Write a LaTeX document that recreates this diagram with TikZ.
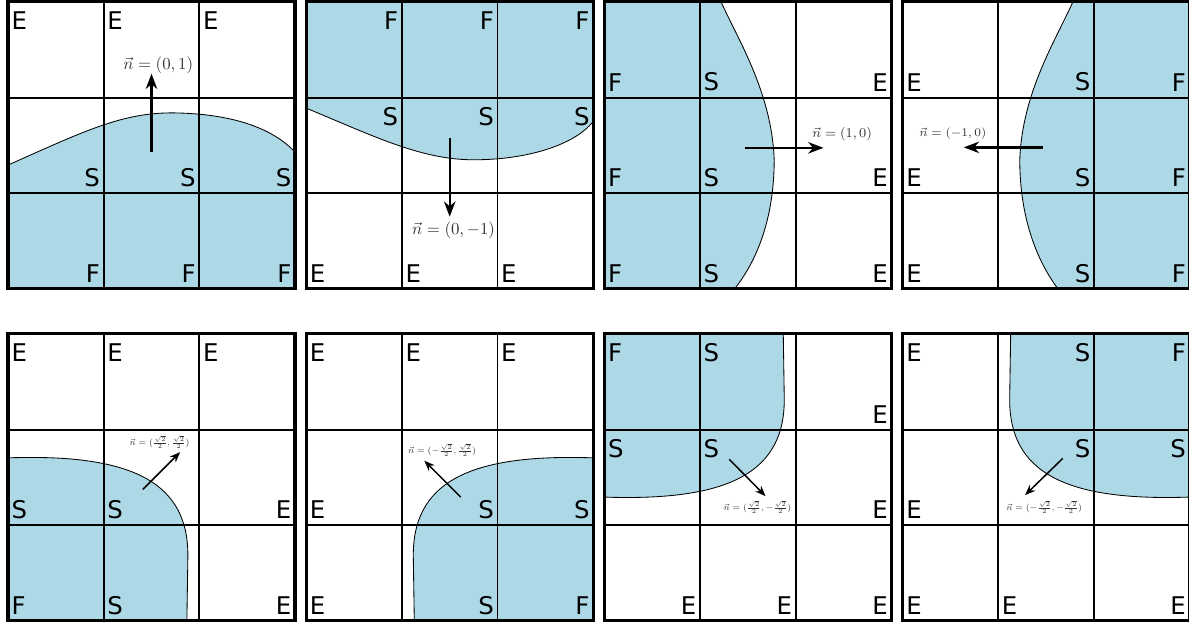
\documentclass[tikz,border=0pt]{standalone}
\usepackage{fontspec}
\usepackage{tikz}
\usetikzlibrary{arrows.meta}
\newfontfamily\tagfont{DejaVu Sans}
\definecolor{fluid}{HTML}{ADD8E6}
\definecolor{vecgrey}{HTML}{333333}
\newcommand{\cellgrid}{%
  \draw[gridline] (2,0) -- (2,6) (4,0) -- (4,6) (0,2) -- (6,2) (0,4) -- (6,4);
  \draw[frameline] (0,0) rectangle (6,6);}

\tikzset{
  gridline/.style={line width=1.1pt},
  frameline/.style={line width=1.8pt},
  surface/.style={fill=fluid, draw=black, line width=0.5pt},
  tagbase/.style={font=\tagfont\fontsize{14.5}{17}\selectfont, inner sep=0pt},
  tagNW/.style={tagbase, anchor=north west, xshift=0.07cm, yshift=-0.2cm},
  tagNE/.style={tagbase, anchor=north east, xshift=-0.07cm, yshift=-0.2cm},
  tagSW/.style={tagbase, anchor=south west, xshift=0.07cm, yshift=0.13cm},
  tagSE/.style={tagbase, anchor=south east, xshift=-0.07cm, yshift=0.13cm},
  nvec/.style={-{Stealth[length=0.32cm,width=0.24cm]}, line width=1.4pt},
  nvecsm/.style={-{Stealth[length=0.22cm,width=0.17cm]}, line width=0.9pt},
  nlbl/.style={text=vecgrey, inner sep=0pt},
  nlblsm/.style={nlbl, font=\fontsize{7.2}{9}\selectfont, scale=0.74, transform shape},
}

\begin{document}
\begin{tikzpicture}
  \useasboundingbox (0,0) rectangle (24.857,13.024);

  % top row: flat interfaces
  \begin{scope}[shift={(0.167,6.983)}]
    \draw[surface] (0,2.59) .. controls (1.6,3.3) and (2.4,3.7) .. (3.5,3.68)
      .. controls (4.6,3.66) and (5.5,3.4) .. (6,2.86) -- (6,0) -- (0,0) -- cycle;
    \cellgrid
    \node[tagNW] (a1) at (0,6) {E};
    \node[tagNW] (a2) at (2,6) {E};
    \node[tagNW] (a3) at (4,6) {E};
    \node[tagSE] (a4) at (2,2) {S};
    \node[tagSE] (a5) at (4,2) {S};
    \node[tagSE] (a6) at (6,2) {S};
    \node[tagSE] (a7) at (2,0) {F};
    \node[tagSE] (a8) at (4,0) {F};
    \node[tagSE] (a9) at (6,0) {F};
    \coordinate (a0) at (3,2.87);
    \coordinate (an) at (3,4.5);
    \draw[nvec] (a0) -- (an);
    \node[nlbl, font=\fontsize{9.8}{11}\selectfont, anchor=south] (alab) at (3.14,4.5)
      {$\vec{n}=(0,1)$};
  \end{scope}

  \begin{scope}[shift={(6.401,6.983)}]
    \draw[surface] (0,3.78) .. controls (1.4,3.2) and (2.4,2.7) .. (3.5,2.70)
      .. controls (4.6,2.70) and (5.6,3.0) .. (6,3.5) -- (6,6) -- (0,6) -- cycle;
    \cellgrid
    \node[tagNE] (b1) at (2,6) {F};
    \node[tagNE] (b2) at (4,6) {F};
    \node[tagNE] (b3) at (6,6) {F};
    \node[tagNE] (b4) at (2,4) {S};
    \node[tagNE] (b5) at (4,4) {S};
    \node[tagNE] (b6) at (6,4) {S};
    \node[tagSW] (b7) at (0,0) {E};
    \node[tagSW] (b8) at (2,0) {E};
    \node[tagSW] (b9) at (4,0) {E};
    \coordinate (b0) at (3,3.15);
    \coordinate (bn) at (3,1.51);
    \draw[nvec] (b0) -- (bn);
    \node[nlbl, font=\fontsize{9.6}{11}\selectfont, anchor=north] (blab) at (3.08,1.40)
      {$\vec{n}=(0,-1)$};
  \end{scope}

  \begin{scope}[shift={(12.635,6.983)}]
    \draw[surface] (0,6) -- (2.44,6) .. controls (2.8,5.2) and (3.5,4.1) .. (3.55,2.7)
      .. controls (3.55,1.5) and (3.2,0.6) .. (2.72,0) -- (0,0) -- cycle;
    \cellgrid
    \node[tagSW] (c1) at (0,4) {F};
    \node[tagSW] (c2) at (0,2) {F};
    \node[tagSW] (c3) at (0,0) {F};
    \node[tagSW] (c4) at (2,4) {S};
    \node[tagSW] (c5) at (2,2) {S};
    \node[tagSW] (c6) at (2,0) {S};
    \node[tagSE] (c7) at (6,4) {E};
    \node[tagSE] (c8) at (6,2) {E};
    \node[tagSE] (c9) at (6,0) {E};
    \coordinate (c0) at (2.93,2.95);
    \coordinate (cn) at (4.58,2.95);
    \draw[nvec] (c0) -- (cn);
    \node[nlbl, font=\fontsize{8.1}{10}\selectfont, anchor=south] (clab) at (4.97,3.08)
      {$\vec{n}=(1,0)$};
  \end{scope}

  \begin{scope}[shift={(18.869,6.983)}]
    \draw[surface] (6,6) -- (3.56,6) .. controls (3.2,5.2) and (2.5,4.1) .. (2.45,2.7)
      .. controls (2.45,1.5) and (2.8,0.6) .. (3.25,0) -- (6,0) -- cycle;
    \cellgrid
    \node[tagSW] (d1) at (0,4) {E};
    \node[tagSW] (d2) at (0,2) {E};
    \node[tagSW] (d3) at (0,0) {E};
    \node[tagSE] (d4) at (4,4) {S};
    \node[tagSE] (d5) at (4,2) {S};
    \node[tagSE] (d6) at (4,0) {S};
    \node[tagSE] (d7) at (6,4) {F};
    \node[tagSE] (d8) at (6,2) {F};
    \node[tagSE] (d9) at (6,0) {F};
    \coordinate (d0) at (2.94,2.96);
    \coordinate (dn) at (1.28,2.96);
    \draw[nvec] (d0) -- (dn);
    \node[nlbl, font=\fontsize{7.2}{9}\selectfont, anchor=south] (dlab) at (1.05,3.12)
      {$\vec{n}=(-1,0)$};
  \end{scope}

  % bottom row: corner interfaces
  \begin{scope}[shift={(0.167,0.042)}]
    \draw[surface] (0,0) -- (0,3.41) .. controls (2.6,3.5) and (3.8,2.9) .. (3.76,1.3)
      -- (3.74,0) -- cycle;
    \cellgrid
    \node[tagNW] (e1) at (0,6) {E};
    \node[tagNW] (e2) at (2,6) {E};
    \node[tagNW] (e3) at (4,6) {E};
    \node[tagSW] (e4) at (0,2) {S};
    \node[tagSW] (e5) at (2,2) {S};
    \node[tagSE] (e6) at (6,2) {E};
    \node[tagSW] (e7) at (0,0) {F};
    \node[tagSW] (e8) at (2,0) {S};
    \node[tagSE] (e9) at (6,0) {E};
    \coordinate (e0) at (2.82,2.75);
    \coordinate (en) at (3.60,3.53);
    \draw[nvecsm] (e0) -- (en);
    \node[nlblsm, anchor=south] (elab) at (3.17,3.6)
      {$\vec{n}=(\frac{\sqrt{2}}{2},\frac{\sqrt{2}}{2})$};
  \end{scope}

  \begin{scope}[shift={(6.401,0.042)}]
    \draw[surface] (6,0) -- (6,3.41) .. controls (3.4,3.5) and (2.2,2.9) .. (2.24,1.3)
      -- (2.26,0) -- cycle;
    \cellgrid
    \node[tagNW] (f1) at (0,6) {E};
    \node[tagNW] (f2) at (2,6) {E};
    \node[tagNW] (f3) at (4,6) {E};
    \node[tagSW] (f4) at (0,2) {E};
    \node[tagSE] (f5) at (4,2) {S};
    \node[tagSE] (f6) at (6,2) {S};
    \node[tagSW] (f7) at (0,0) {E};
    \node[tagSE] (f8) at (4,0) {S};
    \node[tagSE] (f9) at (6,0) {F};
    \coordinate (f0) at (3.23,2.59);
    \coordinate (fn) at (2.47,3.35);
    \draw[nvecsm] (f0) -- (fn);
    \node[nlblsm, anchor=south] (flab) at (2.84,3.44)
      {$\vec{n}=(-\frac{\sqrt{2}}{2},\frac{\sqrt{2}}{2})$};
  \end{scope}

  \begin{scope}[shift={(12.635,0.042)}]
    \draw[surface] (0,6) -- (0,2.59) .. controls (2.6,2.5) and (3.8,3.1) .. (3.76,4.7)
      -- (3.74,6) -- cycle;
    \cellgrid
    \node[tagNW] (g1) at (0,6) {F};
    \node[tagNW] (g2) at (2,6) {S};
    \node[tagSE] (g3) at (6,4) {E};
    \node[tagNW] (g4) at (0,4) {S};
    \node[tagNW] (g5) at (2,4) {S};
    \node[tagSE] (g6) at (6,2) {E};
    \node[tagSE] (g7) at (2,0) {E};
    \node[tagSE] (g8) at (4,0) {E};
    \node[tagSE] (g9) at (6,0) {E};
    \coordinate (g0) at (2.61,3.38);
    \coordinate (gn) at (3.37,2.61);
    \draw[nvecsm] (g0) -- (gn);
    \node[nlblsm, anchor=north] (glab) at (3.20,2.52)
      {$\vec{n}=(\frac{\sqrt{2}}{2},-\frac{\sqrt{2}}{2})$};
  \end{scope}

  \begin{scope}[shift={(18.869,0.042)}]
    \draw[surface] (6,6) -- (6,2.59) .. controls (3.4,2.5) and (2.2,3.1) .. (2.24,4.7)
      -- (2.26,6) -- cycle;
    \cellgrid
    \node[tagNW] (h1) at (0,6) {E};
    \node[tagNE] (h2) at (4,6) {S};
    \node[tagNE] (h3) at (6,6) {F};
    \node[tagSW] (h4) at (0,2) {E};
    \node[tagNE] (h5) at (4,4) {S};
    \node[tagNE] (h6) at (6,4) {S};
    \node[tagSW] (h7) at (0,0) {E};
    \node[tagSW] (h8) at (2,0) {E};
    \node[tagSE] (h9) at (6,0) {E};
    \coordinate (h0) at (3.35,3.40);
    \coordinate (hn) at (2.56,2.63);
    \draw[nvecsm] (h0) -- (hn);
    \node[nlblsm, anchor=north] (hlab) at (2.96,2.52)
      {$\vec{n}=(-\frac{\sqrt{2}}{2},-\frac{\sqrt{2}}{2})$};
  \end{scope}
\end{tikzpicture}
\end{document}
